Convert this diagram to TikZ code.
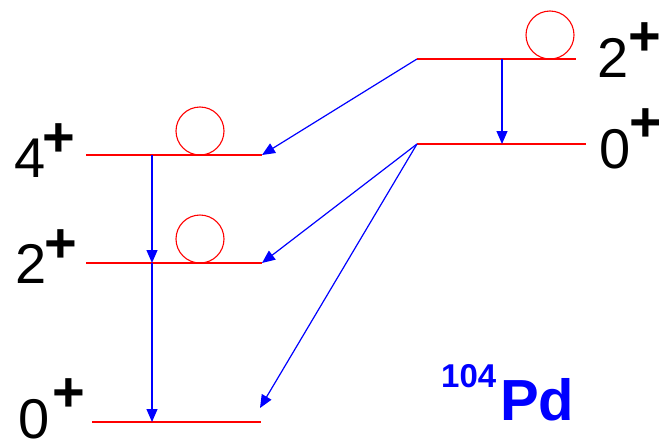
\documentclass[tikz,border=0pt]{standalone}
\usepackage{fontspec}
\setmainfont{Liberation Sans}
\usetikzlibrary{arrows.meta}

% spin-parity label: digit with a raised bold plus
\newcommand\jpi[3]{{\fontsize{56}{60}\selectfont #1}\kern#2pt\raisebox{#3pt}{\fontsize{56}{58}\selectfont\bfseries +}}

\begin{document}
\begin{tikzpicture}[x=1pt,y=-1pt,
  level/.style={draw={rgb,255:red,255;green,0;blue,0}, line width=1.4pt},
  ring/.style={draw={rgb,255:red,255;green,0;blue,0}, line width=1.1pt},
  trans/.style={draw={rgb,255:red,0;green,0;blue,255}, line width=1.2pt,
    -{Triangle[length=13pt,width=11pt]}},
  lab/.style={inner sep=0pt, anchor=base west}]
\useasboundingbox (0,0) rectangle (659,442);

% level end points
\coordinate (a4L) at (86,155);  \coordinate (a4R) at (262,155);
\coordinate (a2L) at (86,263);  \coordinate (a2R) at (262,263);
\coordinate (a0L) at (92,422);  \coordinate (a0R) at (261,422);
\coordinate (b2L) at (417,59);  \coordinate (b2R) at (576,59);
\coordinate (b0L) at (417,144); \coordinate (b0R) at (586,144);

% levels
\draw[level] (a4L) -- (a4R);
\draw[level] (a2L) -- (a2R);
\draw[level] (a0L) -- (a0R);
\draw[level] (b2L) -- (b2R);
\draw[level] (b0L) -- (b0R);

% circles resting on the levels
\draw[ring] (200,131) circle (24);
\draw[ring] (200,239) circle (24);
\draw[ring] (550,35) circle (24);

% points on the levels for vertical transitions
\coordinate (v4) at (152,155);
\coordinate (v2) at (152,263);
\coordinate (v0) at (152,422);
\coordinate (w2) at (502,59);
\coordinate (w0) at (502,144);
\coordinate (t0) at (260,408);

% transitions
\draw[trans] (v4) -- (v2);
\draw[trans] (v2) -- (v0);
\draw[trans] (w2) -- (w0);
\draw[trans] (b2L) -- (a4R);
\draw[trans] (b0L) -- (a2R);
\draw[trans] (b0L) -- (t0);

% labels
\node[lab] (l4) at (14,177)  {\jpi{4}{-3}{21}};
\node[lab] (l2) at (15,283)  {\jpi{2}{-2}{20.5}};
\node[lab] (l0) at (18,438)  {\jpi{0}{3}{27}};
\node[lab] (r2) at (597,77)  {\jpi{2}{0}{21.5}};
\node[lab] (r0) at (599,168) {\jpi{0}{-1}{27}};

\node[lab, text={rgb,255:red,0;green,0;blue,255}] (pd) at (441,420)
  {\bfseries\raisebox{33pt}{\fontsize{33}{34}\selectfont 104}\kern4pt{\fontsize{58}{60}\selectfont Pd}};
\end{tikzpicture}
\end{document}
